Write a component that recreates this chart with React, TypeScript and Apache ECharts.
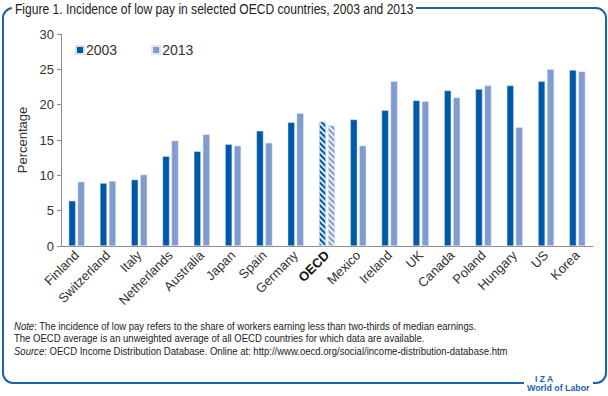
import React, { useEffect, useRef } from "react";
import * as echarts from "echarts";

const categories = ["Finland", "Switzerland", "Italy", "Netherlands", "Australia", "Japan", "Spain", "Germany", "OECD", "Mexico", "Ireland", "UK", "Canada", "Poland", "Hungary", "US", "Korea"];
const values2003 = [6.4, 8.9, 9.4, 12.7, 13.4, 14.4, 16.3, 17.5, 17.6, 17.9, 19.2, 20.6, 22.0, 22.2, 22.7, 23.3, 24.9];
const values2013 = [9.1, 9.2, 10.1, 14.9, 15.8, 14.2, 14.6, 18.8, 17.1, 14.2, 23.3, 20.5, 21.0, 22.7, 16.8, 25.0, 24.7];
const yTicks = { min: 0, max: 30, interval: 5 };

const DARK = "#0058a8";
const LIGHT = "#7f9bcf";
const FRAME = "#1b62ad";
const FONT = "'Liberation Sans', Arial, sans-serif";

const hatch = {
  symbol: "rect",
  symbolSize: 1,
  color: "rgba(255,255,255,0.85)",
  dashArrayX: [1, 0],
  dashArrayY: [2, 2],
  rotation: Math.PI / 4,
};

function buildData(vals: number[]) {
  return vals.map((v, i) =>
    categories[i] === "OECD" ? { value: v, itemStyle: { decal: hatch } } : v
  );
}

export default function App() {
  const ref = useRef<HTMLDivElement>(null);
  useEffect(() => {
    document.body.style.margin = "0";
    const chart = echarts.init(ref.current!, undefined, { renderer: "svg" });
    const noteStyle = {
      fontSize: 11.5,
      fontFamily: FONT,
      fill: "#222",
      verticalAlign: "middle",
    };
    chart.setOption({
      animation: false,
      textStyle: { fontFamily: FONT },
      grid: { left: 61, right: 15, top: 34, bottom: 150 },
      legend: {
        left: 70,
        top: 38,
        itemWidth: 8,
        itemHeight: 8,
        itemGap: 34,
        icon: "rect",
        textStyle: { fontSize: 14, color: "#333", fontFamily: FONT, padding: [0, 0, 0, -3] },
        data: ["2003", "2013"],
      },
      xAxis: {
        type: "category",
        data: categories,
        axisLine: { lineStyle: { color: "#8c8c8c" } },
        axisTick: { length: 4, lineStyle: { color: "#8c8c8c" } },
        axisLabel: {
          rotate: 45,
          interval: 0,
          fontSize: 13,
          color: "#333",
          margin: 7,
          fontFamily: FONT,
          formatter: (v: string) => (v === "OECD" ? "{b|OECD}" : v),
          rich: { b: { fontWeight: "bold", fontSize: 13, color: "#111", fontFamily: FONT } },
        },
      },
      yAxis: {
        type: "value",
        min: yTicks.min,
        max: yTicks.max,
        interval: yTicks.interval,
        name: "Percentage",
        nameLocation: "middle",
        nameGap: 32,
        nameTextStyle: { fontSize: 13, color: "#333", fontFamily: FONT },
        axisLine: { show: true, lineStyle: { color: "#8c8c8c" } },
        axisTick: { show: true, length: 4, lineStyle: { color: "#8c8c8c" } },
        axisLabel: { fontSize: 13, color: "#333", margin: 7, fontFamily: FONT },
        splitLine: { show: false },
      },
      series: [
        {
          name: "2003",
          type: "bar",
          data: buildData(values2003),
          barWidth: 7,
          barGap: "28%",
          itemStyle: { color: DARK, borderColor: "#d6e0f0", borderWidth: 0.5 },
        },
        {
          name: "2013",
          type: "bar",
          data: buildData(values2013),
          barWidth: 7,
          itemStyle: { color: LIGHT, borderColor: "#dfe6f3", borderWidth: 0.5 },
        },
      ],
      graphic: [
        {
          type: "rect",
          shape: { x: 3, y: 8, width: 603, height: 375, r: 10 },
          style: { fill: "none", stroke: FRAME, lineWidth: 2 },
          z: 1,
        },
        {
          type: "rect",
          shape: { x: 12, y: 0, width: 404, height: 18 },
          style: { fill: "#fff" },
          z: 2,
        },
        {
          type: "text",
          x: 15,
          y: 9,
          z: 3,
          scaleX: 0.862,
          style: {
            text: "Figure 1. Incidence of low pay in selected OECD countries, 2003 and 2013",
            fontSize: 14,
            fontFamily: FONT,
            fill: "#222",
            verticalAlign: "middle",
          },
        },
        {
          type: "text",
          x: 14,
          y: 326,
          z: 2,
          scaleX: 0.83,
          style: {
            ...noteStyle,
            text: "{i|Note}: The incidence of low pay refers to the share of workers earning less than two-thirds of median earnings.",
            rich: { i: { fontStyle: "italic", fontSize: 11.5, fontFamily: FONT, fill: "#222" } },
          },
        },
        {
          type: "text",
          x: 14,
          y: 338,
          z: 2,
          scaleX: 0.83,
          style: {
            ...noteStyle,
            text: "The OECD average is an unweighted average of all OECD countries for which data are available.",
          },
        },
        {
          type: "text",
          x: 14,
          y: 350.5,
          z: 2,
          scaleX: 0.83,
          style: {
            ...noteStyle,
            text: "{i|Source}: OECD Income Distribution Database. Online at: http://www.oecd.org/social/income-distribution-database.htm",
            rich: { i: { fontStyle: "italic", fontSize: 11.5, fontFamily: FONT, fill: "#222" } },
          },
        },
        {
          type: "rect",
          shape: { x: 524, y: 372, width: 69, height: 22 },
          style: { fill: "#fff" },
          z: 2,
        },
        {
          type: "text",
          x: 535,
          y: 379,
          z: 3,
          style: { text: "I Z A", fontSize: 8.5, fontWeight: "bold", fontFamily: FONT, fill: FRAME, verticalAlign: "middle" },
        },
        {
          type: "text",
          x: 527,
          y: 388,
          z: 3,
          scaleX: 0.93,
          style: { text: "World of Labor", fontSize: 9.5, fontWeight: "bold", fontFamily: FONT, fill: FRAME, verticalAlign: "middle" },
        },
      ],
    });
    return () => chart.dispose();
  }, []);
  return <div ref={ref} style={{ width: 608, height: 396 }} />;
}
